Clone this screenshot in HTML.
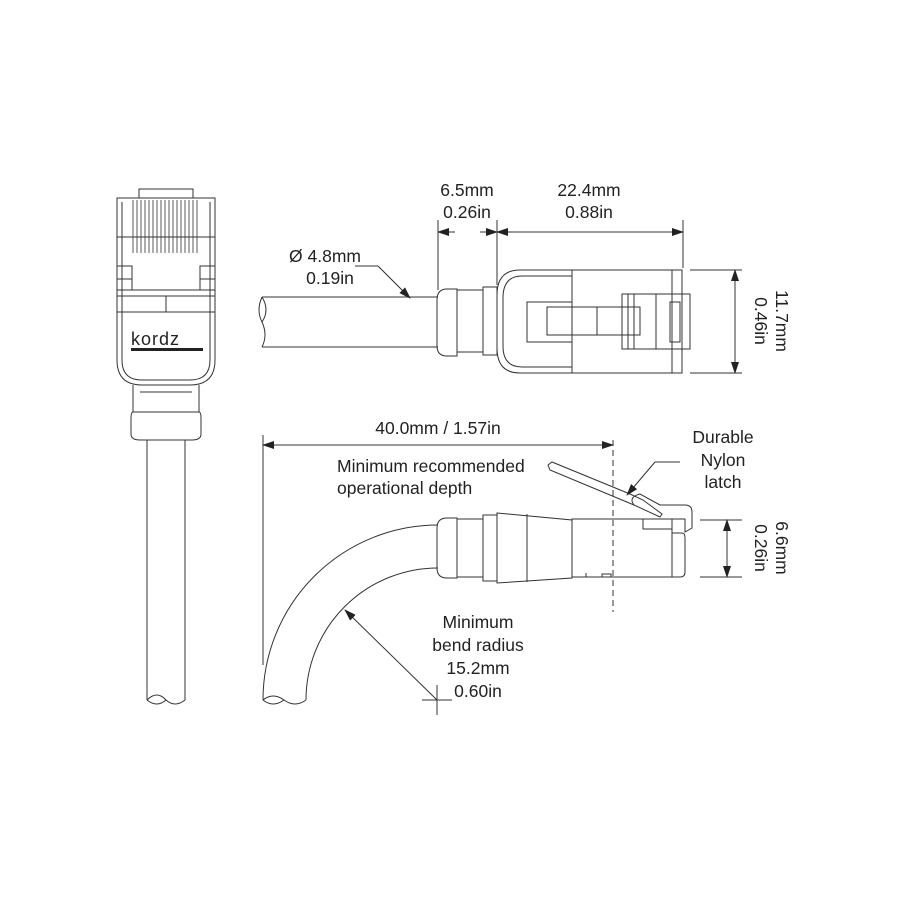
<!DOCTYPE html>
<html><head><style>body{margin:0;background:#fff}svg{display:block}</style></head><body>
<svg width="900" height="900" viewBox="0 0 900 900" xmlns="http://www.w3.org/2000/svg" font-family="Liberation Sans, sans-serif" font-size="17.5" fill="none" stroke="#333" stroke-width="1">
<defs><marker id="a" markerWidth="12" markerHeight="8" refX="11" refY="4" orient="auto" markerUnits="userSpaceOnUse"><path d="M0,0 L12,4 L0,8 z" fill="#222" stroke="none"/></marker></defs>

<!-- LEFT FRONT VIEW -->
<rect x="139" y="189" width="54" height="9"/>
<path d="M117,198 H215 V360 Q215,385 190,385 H142 Q117,385 117,360 Z"/>
<path d="M122,202 V360 Q122,380 142,380 H190 Q210,380 210,360 V202"/>
<g stroke-width="0.8">
<path d="M133,200 V253 M141,200 V253 M149,200 V253 M157,200 V253 M165,200 V253 M173,200 V253 M181,200 V253 M189,200 V253 M197,200 V253"/>
<path d="M137,200 V253 M145,200 V253 M153,200 V253 M161,200 V253 M169,200 V253 M177,200 V253 M185,200 V253 M193,200 V253"/>
</g>
<line x1="117" y1="237" x2="215" y2="237"/>
<path d="M117,266 H132 V279 H117 M215,266 H200 V279 H215 M132,266 V290 M200,266 V290 M117,290 H215 M117,296 H215 M117,312 H215 M166,296 V312"/>
<text x="131" y="345" font-size="18" fill="#222" stroke="none" letter-spacing="1">kordz</text>
<rect x="131" y="348" width="72" height="3" fill="#222" stroke="none"/>
<path d="M133,385 V412 M199,385 V412 M140,392 H192"/>
<path d="M133,412 Q131,412 131,418 V434 Q131,440 140,440 H192 Q201,440 201,434 V418 Q201,412 199,412 Z"/>
<path d="M147,440 V700 M185,440 V700"/>
<path d="M147,700 Q157,690 166,700 Q175,708 185,700 M147,700 Q157,708 166,700"/>

<!-- TOP SIDE VIEW -->
<path d="M262,297 H438 M262,347 H438"/>
<path d="M262,297 Q256,310 262,322 Q268,335 262,347 M262,322 Q270,310 262,297"/>
<path d="M457,289 H447 Q437,289 437,300 V346 Q437,356 447,356 H457 Z"/>
<rect x="457" y="290" width="26" height="62"/>
<rect x="483" y="287" width="14" height="68"/>
<path d="M572,270 H520 Q497,270 497,295 V348 Q497,373 520,373 H572"/>
<path d="M572,276 H522 Q503,276 503,298 V346 Q503,367 522,367 H572"/>
<rect x="527" y="302" width="45" height="40"/>
<rect x="572" y="270" width="100" height="103"/>
<rect x="547" y="307" width="93" height="28"/>
<line x1="597" y1="307" x2="597" y2="335"/>
<rect x="622" y="294" width="68" height="55"/>
<path d="M628,294 V349 M634,294 V349 M656,294 V349"/>
<rect x="670" y="302" width="10" height="40"/>
<path d="M672,270 H682 V373 H672"/>
<!-- dims top -->
<path d="M438,220 V290 M497,220 V285 M683,220 V268"/>
<line x1="455" y1="232" x2="438" y2="232" marker-end="url(#a)"/>
<line x1="480" y1="232" x2="497" y2="232" marker-end="url(#a)"/>
<line x1="590" y1="232" x2="497" y2="232" marker-end="url(#a)"/>
<line x1="590" y1="232" x2="683" y2="232" marker-end="url(#a)"/>
<g fill="#222" stroke="none" text-anchor="middle">
<text x="467" y="196">6.5mm</text><text x="467" y="218">0.26in</text>
<text x="589" y="196">22.4mm</text><text x="589" y="218">0.88in</text>
<text x="325" y="262">Ø 4.8mm</text><text x="330" y="284">0.19in</text>
<text x="438" y="434">40.0mm / 1.57in</text>
<text x="337" y="472" text-anchor="start">Minimum recommended</text>
<text x="337" y="494" text-anchor="start">operational depth</text>
<text x="723" y="443">Durable</text><text x="723" y="466">Nylon</text><text x="723" y="488">latch</text>
<text x="478" y="628">Minimum</text><text x="478" y="651">bend radius</text><text x="478" y="674">15.2mm</text><text x="478" y="697">0.60in</text>
<text transform="translate(776,321) rotate(90)">11.7mm</text>
<text transform="translate(755,321) rotate(90)">0.46in</text>
<text transform="translate(776,548) rotate(90)">6.6mm</text>
<text transform="translate(755,548) rotate(90)">0.26in</text>
</g>
<path d="M355,266 H378"/>
<line x1="378" y1="266" x2="410" y2="298" marker-end="url(#a)"/>
<path d="M690,270 H742 M690,373 H742"/>
<line x1="735" y1="320" x2="735" y2="270" marker-end="url(#a)"/>
<line x1="735" y1="320" x2="735" y2="373" marker-end="url(#a)"/>

<!-- BOTTOM VIEW -->
<path d="M263,435 V665"/>
<line x1="438" y1="445" x2="263" y2="445" marker-end="url(#a)"/>
<line x1="438" y1="445" x2="613" y2="445" marker-end="url(#a)"/>
<line x1="613" y1="440" x2="613" y2="612" stroke-dasharray="6,4"/>
<path d="M438,525 A175,175 0 0 0 263,700"/>
<path d="M438,568 A132,132 0 0 0 306,700"/>
<path d="M263,700 Q273,692 284,700 Q295,708 306,700 M263,700 Q273,708 284,700"/>
<path d="M457,518 H447 Q437,518 437,528 V568 Q437,578 447,578 H457 Z"/>
<rect x="457" y="519" width="26" height="58"/>
<rect x="483" y="515" width="14" height="66"/>
<path d="M497,513 L572,520 L572,578 L497,583 Z"/>
<path d="M527,514 V582"/>
<rect x="572" y="519" width="100" height="58"/>
<path d="M643,519 V529 H672"/>
<path d="M672,533 H682 Q685,533 685,538 V572 Q685,577 680,577 H672"/>
<path d="M602,577 V574 H611 V577 M586,577 V573"/>
<path d="M548,465 L550,470 L634,505 L660,517 L662,514 L643,500 L630,494 L552,462 Z"/>
<path d="M634,505 Q628,497 640,494 L660,505 H685 Q692,505 692,512 V528 L685,532 V519 H660"/>
<path d="M700,520 H742 M700,577 H742"/>
<line x1="727" y1="548" x2="727" y2="520" marker-end="url(#a)"/>
<line x1="727" y1="548" x2="727" y2="577" marker-end="url(#a)"/>
<path d="M680,462 H655"/>
<line x1="655" y1="462" x2="627" y2="495" marker-end="url(#a)"/>
<line x1="437" y1="700" x2="345" y2="610" marker-end="url(#a)"/>
<path d="M422,700 H452 M437,685 V715"/>
</svg>
</body></html>
